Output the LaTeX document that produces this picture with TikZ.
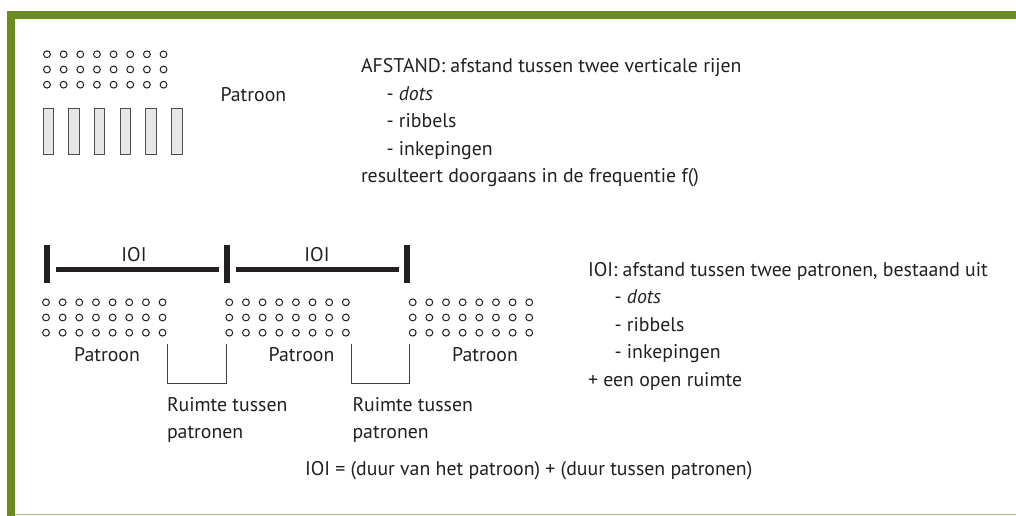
\documentclass[tikz,border=0pt]{standalone}
\usepackage{fontspec}
\setmainfont{PT Sans}
\definecolor{frameGreen}{HTML}{6B8C23}
\definecolor{frameLight}{HTML}{A9BC7E}
\definecolor{ink}{HTML}{231F20}
\definecolor{barFill}{HTML}{E6E7E8}
\definecolor{barEdge}{HTML}{4D4D4F}
\tikzset{
  txt/.style={anchor=base west, inner sep=0pt, outer sep=0pt, text=ink, font=\fontsize{19.8}{22}\selectfont},
  ctxt/.style={anchor=base, inner sep=0pt, outer sep=0pt, text=ink, font=\fontsize{19.8}{22}\selectfont},
  dotc/.style={draw=ink, line width=1pt},
  ribbar/.style={draw=barEdge, fill=barFill, line width=1pt},
  ioibar/.style={fill=ink, draw=none},
  bracketline/.style={draw=ink!85, line width=0.8pt},
}
\newcommand{\dotgrid}[2]{%
  \foreach \i in {0,...,7}{\foreach \j in {0,1,2}{%
    \draw[dotc] ({#1+\i*16.65},{#2+\j*15.2}) circle (3.4);}}}
\begin{document}
\begin{tikzpicture}[x=1pt,y=-1pt]
\useasboundingbox (0,0) rectangle (1016,516);
% frame
\fill[frameGreen] (7,11) rectangle (1016,19);
\fill[frameGreen] (7,11) rectangle (15,516);
\draw[frameLight, line width=1.2pt] (15,514.5) -- (1016,514.5);
% top pattern
\dotgrid{47}{54.3}
\foreach \k in {0,...,5}{\draw[ribbar] ({43+\k*25.7},108.5) rectangle ({53.5+\k*25.7},154.5);}
\node[txt] (pTop) at (220.5,102) {Patroon};
% AFSTAND block
\node[txt] (af1) at (361,72.5) {AFSTAND: afstand tussen twee verticale rijen};
\node[txt] (af2) at (386.5,100) {- \textit{dots}};
\node[txt] (af3) at (386.5,127.5) {- ribbels};
\node[txt] (af4) at (386.5,155) {- inkepingen};
\node[txt] (af5) at (361,182.5) {resulteert doorgaans in de frequentie f()};
% IOI bars
\fill[ioibar] (44,245) rectangle (50,283);
\fill[ioibar] (224.3,245) rectangle (230.3,283);
\fill[ioibar] (404,245) rectangle (410,283);
\coordinate (h1a) at (56,269.2); \coordinate (h1b) at (219,269.2);
\coordinate (h2a) at (236,269.2); \coordinate (h2b) at (399,269.2);
\draw[ink, line width=4.8pt] (h1a) -- (h1b);
\draw[ink, line width=4.8pt] (h2a) -- (h2b);
\node[ctxt] (ioi1) at (134,261) {IOI};
\node[ctxt] (ioi2) at (317,261) {IOI};
% bottom patterns
\dotgrid{46}{302.3}
\dotgrid{229.3}{302.3}
\dotgrid{412.7}{302.3}
\node[ctxt] (p1) at (107,361) {Patroon};
\node[ctxt] (p2) at (301.5,361) {Patroon};
\node[ctxt] (p3) at (485,361) {Patroon};
% brackets
\coordinate (b1a) at (167.3,343.5); \coordinate (b1b) at (226.8,343.5);
\draw[bracketline] (b1a) -- (167.3,383.3) -- (226.8,383.3) -- (b1b);
\coordinate (b2a) at (351,343.5); \coordinate (b2b) at (409.5,343.5);
\draw[bracketline] (b2a) -- (351,383.3) -- (409.5,383.3) -- (b2b);
\node[txt] (r1a) at (167,411) {Ruimte tussen};
\node[txt] (r1b) at (167,438) {patronen};
\node[txt] (r2a) at (352.5,411) {Ruimte tussen};
\node[txt] (r2b) at (352.5,438) {patronen};
% IOI block
\node[txt] (io1) at (588,276) {IOI: afstand tussen twee patronen, bestaand uit};
\node[txt] (io2) at (614.5,303.5) {- \textit{dots}};
\node[txt] (io3) at (614.5,331) {- ribbels};
\node[txt] (io4) at (614.5,358.5) {- inkepingen};
\node[txt] (io5) at (588,386) {+ een open ruimte};
% formula
\node[txt] (form) at (305,475) {IOI = (duur van het patroon) + (duur tussen patronen)};
\end{tikzpicture}
\end{document}
